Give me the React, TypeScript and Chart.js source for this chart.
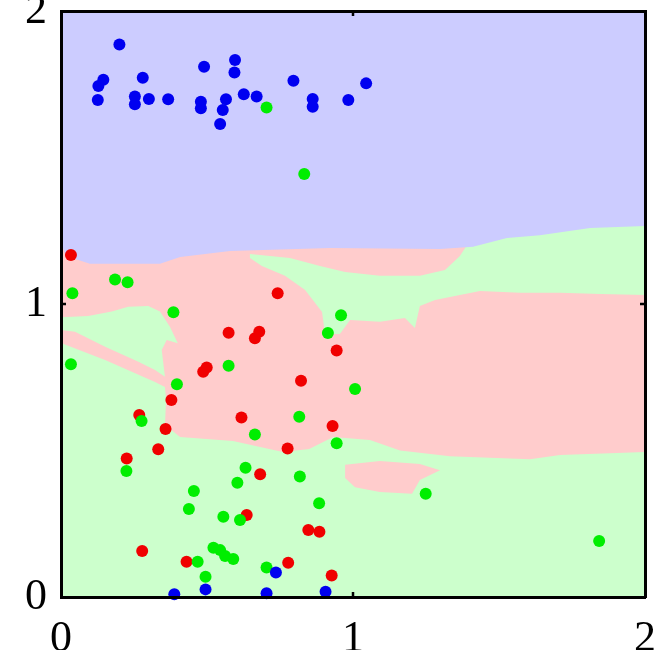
import React, { useEffect, useRef } from "react";
import { Chart, registerables } from "chart.js";

Chart.register(...registerables);

// ---- axis ticks ----
const axisTicks = [0, 1, 2];

// ---- scatter points ----
const blueX = [0.200, 0.145, 0.128, 0.126, 0.280, 0.253, 0.253, 0.301, 0.367, 0.490, 0.479, 0.479, 0.596, 0.594, 0.565, 0.554, 0.545, 0.626, 0.670, 0.796, 0.862, 0.862, 1.045, 0.984, 0.388, 0.495, 0.704, 0.736, 0.906];
const blueY = [1.886, 1.765, 1.744, 1.696, 1.772, 1.708, 1.682, 1.700, 1.699, 1.810, 1.690, 1.668, 1.833, 1.790, 1.699, 1.662, 1.614, 1.716, 1.708, 1.762, 1.700, 1.673, 1.753, 1.696, 0.009, 0.026, 0.013, 0.084, 0.018];

const redX = [0.034, 0.742, 0.574, 0.679, 0.664, 0.499, 0.487, 0.822, 0.944, 0.378, 0.268, 0.618, 0.358, 0.930, 0.333, 0.225, 0.776, 0.682, 0.636, 0.847, 0.885, 0.278, 0.430, 0.778, 0.927];
const redY = [1.167, 1.037, 0.902, 0.905, 0.883, 0.783, 0.769, 0.738, 0.841, 0.672, 0.621, 0.613, 0.573, 0.584, 0.504, 0.473, 0.507, 0.419, 0.280, 0.229, 0.223, 0.157, 0.120, 0.117, 0.073];

const greenX = [0.704, 0.833, 0.185, 0.228, 0.039, 0.385, 0.959, 0.914, 0.034, 0.574, 0.397, 1.007, 0.276, 0.816, 0.664, 0.944, 0.224, 0.632, 0.604, 0.818, 0.455, 0.438, 0.884, 0.556, 0.613, 0.522, 0.545, 0.562, 0.590, 0.468, 0.495, 0.704, 1.249, 1.843];
const greenY = [1.671, 1.444, 1.084, 1.074, 1.037, 0.972, 0.962, 0.901, 0.794, 0.789, 0.726, 0.710, 0.601, 0.615, 0.555, 0.525, 0.430, 0.441, 0.390, 0.411, 0.362, 0.300, 0.320, 0.274, 0.263, 0.168, 0.160, 0.140, 0.130, 0.120, 0.069, 0.101, 0.352, 0.191];

// ---- decision regions (polygons in data units) ----
const greenBgX = [0, 2, 2, 0];
const greenBgY = [0, 0, 2, 2];

const blueRegionX = [0, 2, 2.0, 1.812, 1.640, 1.527, 1.411, 1.298, 0.921, 0.579, 0.408, 0.339, 0.099, 0.017, 0];
const blueRegionY = [2, 2, 1.266, 1.259, 1.235, 1.225, 1.195, 1.188, 1.191, 1.181, 1.160, 1.137, 1.137, 1.164, 1.208];

const pinkMainX = [0, 2, 2.0, 1.709, 1.606, 1.332, 1.161, 1.058, 0.932, 0.850, 0.760, 0.589, 0.408, 0.356, 0.360, 0.356, 0.322, 0.151, 0];
const pinkMainY = [1.35, 1.35, 0.495, 0.485, 0.470, 0.480, 0.500, 0.536, 0.546, 0.505, 0.495, 0.532, 0.546, 0.587, 0.672, 0.717, 0.734, 0.809, 0.867];

const greenBlobX = [0, 0.093, 0.174, 0.230, 0.299, 0.339, 0.373, 0.400, 0.362, 0.345, 0.356, 0.322, 0.265, 0.151, 0.048, 0];
const greenBlobY = [0.955, 0.959, 0.974, 0.991, 0.993, 0.974, 0.922, 0.866, 0.877, 0.843, 0.752, 0.775, 0.803, 0.854, 0.905, 0.911];

const greenStripeX = [0.647, 0.784, 0.887, 0.973, 1.092, 1.229, 1.315, 1.366, 1.401, 2.0, 2.0, 1.846, 1.709, 1.572, 1.435, 1.349, 1.281, 1.229, 1.212, 1.178, 1.092, 0.990, 0.955, 0.904, 0.894, 0.836, 0.767, 0.688, 0.647];
const greenStripeY = [1.171, 1.157, 1.130, 1.109, 1.096, 1.096, 1.116, 1.164, 1.218, 1.304, 1.031, 1.034, 1.038, 1.038, 1.044, 1.027, 1.014, 0.993, 0.918, 0.952, 0.939, 0.945, 0.898, 0.898, 0.973, 1.048, 1.096, 1.130, 1.157];

const pinkTongueX = [0.973, 1.092, 1.229, 1.298, 1.229, 1.202, 1.092, 1.007, 0.973];
const pinkTongueY = [0.451, 0.464, 0.454, 0.433, 0.399, 0.352, 0.358, 0.375, 0.406];

const COLORS = {
  blueBg: "rgb(204,204,255)",
  pinkBg: "rgb(255,204,204)",
  greenBg: "rgb(204,255,204)",
  blue: "#0000f0",
  red: "#f00000",
  green: "#00ee00",
};

const toPts = (xs: number[], ys: number[]) => xs.map((x, i) => ({ x, y: ys[i] }));

const region = (xs: number[], ys: number[], color: string, order: number) => ({
  data: toPts(xs, ys),
  showLine: true,
  fill: "shape",
  backgroundColor: color,
  borderColor: "rgba(0,0,0,0)",
  borderWidth: 0,
  pointRadius: 0,
  pointHoverRadius: 0,
  tension: 0,
  order,
});

const points = (xs: number[], ys: number[], color: string, order: number) => ({
  data: toPts(xs, ys),
  showLine: false,
  pointRadius: 6,
  pointHoverRadius: 6,
  pointBackgroundColor: color,
  pointBorderColor: color,
  pointBorderWidth: 0,
  backgroundColor: color,
  borderColor: color,
  clip: false,
  order,
});

const innerTicks = {
  id: "innerTicks",
  afterDraw(chart: any) {
    const { ctx, chartArea } = chart;
    const xs = chart.scales.x;
    const ys = chart.scales.y;
    ctx.save();
    ctx.strokeStyle = "#000";
    ctx.lineWidth = 2.5;
    const len = 5;
    axisTicks.slice(1, -1).forEach((v) => {
      const px = xs.getPixelForValue(v);
      ctx.beginPath();
      ctx.moveTo(px, chartArea.bottom);
      ctx.lineTo(px, chartArea.bottom - len);
      ctx.moveTo(px, chartArea.top);
      ctx.lineTo(px, chartArea.top + len);
      ctx.stroke();
      const py = ys.getPixelForValue(v);
      ctx.beginPath();
      ctx.moveTo(chartArea.left, py);
      ctx.lineTo(chartArea.left + len, py);
      ctx.moveTo(chartArea.right, py);
      ctx.lineTo(chartArea.right - len, py);
      ctx.stroke();
    });
    ctx.restore();
  },
};

const fit = (w: number | null, h: number | null) => (scale: any) => {
  if (w !== null) scale.width = w;
  if (h !== null) scale.height = h;
  scale.paddingTop = 0;
  scale.paddingBottom = 0;
  scale.paddingLeft = 0;
  scale.paddingRight = 0;
};

const tickFont = { family: "'Liberation Serif', 'Times New Roman', serif", size: 44 };
const border = { display: true, color: "#000", width: 3, z: 1 };

export default function App() {
  const ref = useRef<HTMLCanvasElement | null>(null);
  useEffect(() => {
    if (!ref.current) return;
    const chart = new Chart(ref.current, {
      type: "line",
      data: {
        datasets: [
          points(blueX, blueY, COLORS.blue, 0) as any,
          points(greenX, greenY, COLORS.green, 1) as any,
          points(redX, redY, COLORS.red, 2) as any,
          region(blueRegionX, blueRegionY, COLORS.blueBg, 5) as any,
          region(pinkTongueX, pinkTongueY, COLORS.pinkBg, 6) as any,
          region(greenStripeX, greenStripeY, COLORS.greenBg, 7) as any,
          region(greenBlobX, greenBlobY, COLORS.greenBg, 7) as any,
          region(pinkMainX, pinkMainY, COLORS.pinkBg, 8) as any,
          region(greenBgX, greenBgY, COLORS.greenBg, 9) as any,
        ],
      },
      options: {
        animation: false,
        responsive: true,
        maintainAspectRatio: false,
        events: [],
        layout: { padding: 0 },
        plugins: { legend: { display: false }, tooltip: { enabled: false } },
        scales: {
          x: {
            type: "linear",
            position: "bottom",
            min: 0,
            max: 2,
            afterFit: fit(null, 53),
            grid: { display: false, drawTicks: false },
            border,
            ticks: { stepSize: 1, padding: 16, color: "#000", font: tickFont, maxRotation: 0 },
          },
          y: {
            type: "linear",
            position: "left",
            min: 0,
            max: 2,
            afterFit: fit(61, null),
            grid: { display: false, drawTicks: false },
            border,
            ticks: { stepSize: 1, padding: 14, color: "#000", font: tickFont },
          },
          x2: {
            type: "linear",
            position: "top",
            min: 0,
            max: 2,
            afterFit: fit(null, 11),
            grid: { display: false, drawTicks: false },
            border,
            ticks: { display: false },
          },
          y2: {
            type: "linear",
            position: "right",
            min: 0,
            max: 2,
            afterFit: fit(20, null),
            grid: { display: false, drawTicks: false },
            border,
            ticks: { display: false },
          },
        },
      } as any,
      plugins: [innerTicks],
    });
    return () => chart.destroy();
  }, []);
  return (
    <div style={{ position: "fixed", left: 0, top: 0, width: 665, height: 650, background: "#fff" }}>
      <canvas ref={ref} />
    </div>
  );
}
